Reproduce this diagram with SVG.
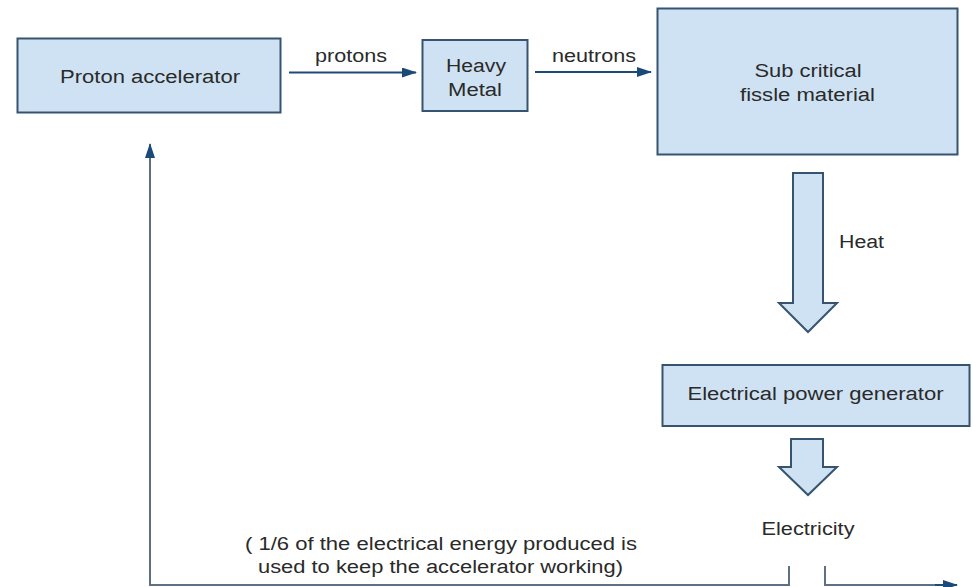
<svg xmlns="http://www.w3.org/2000/svg" width="973" height="587" viewBox="0 0 973 587">
<style>
.box{fill:#cfe2f3;stroke:#36546f;stroke-width:2}
.blk{fill:#cfe2f3;stroke:#36546f;stroke-width:2;stroke-linejoin:miter}
.t{font-family:"Liberation Sans",Arial,sans-serif;font-size:18px;fill:#2a2a2a;text-anchor:middle}
.ts{font-family:"Liberation Sans",Arial,sans-serif;font-size:18px;fill:#2a2a2a}
.ln{fill:none;stroke:#1f4a75;stroke-width:2}
.fb{fill:none;stroke:#5d7085;stroke-width:2}
</style>
<defs>
<marker id="ah" markerWidth="7.5" markerHeight="5" refX="7" refY="2.5" orient="auto" markerUnits="strokeWidth">
<path d="M0,0 L7.5,2.5 L0,5 Z" fill="#1c4a78"/>
</marker>
</defs>
<rect width="973" height="587" fill="#ffffff"/>
<g id="connectors">
<line class="ln" x1="289" y1="72.5" x2="416" y2="72.5" marker-end="url(#ah)"/>
<text class="t" x="351" y="62" textLength="72" lengthAdjust="spacingAndGlyphs">protons</text>
<line class="ln" x1="535" y1="72" x2="651" y2="72" marker-end="url(#ah)"/>
<text class="t" x="594" y="62" textLength="84" lengthAdjust="spacingAndGlyphs">neutrons</text>
<path class="blk" d="M793,173 H823 V303 H837 L808,332 L779,303 H793 Z"/>
<text class="ts" x="839" y="248" textLength="45" lengthAdjust="spacingAndGlyphs">Heat</text>
<path class="blk" d="M791,439 H823 V467 H837 L808,495 L779,467 H791 Z"/>
<text class="t" x="808" y="535" textLength="93" lengthAdjust="spacingAndGlyphs">Electricity</text>
<polyline class="fb" points="789,566 789,585 150,585 150,144" marker-end="url(#ah)"/>
<polyline class="fb" points="825,566 825,585 945,585"/>
<line class="ln" x1="935" y1="585" x2="957" y2="585" marker-end="url(#ah)"/>
<text class="t" x="441" y="550" textLength="392" lengthAdjust="spacingAndGlyphs">( 1/6 of the electrical energy produced is</text>
<text class="t" x="440.5" y="573" textLength="365" lengthAdjust="spacingAndGlyphs">used to keep the accelerator working)</text>
</g>
<g id="proton-accelerator">
<rect class="box" x="17.5" y="38.5" width="263" height="74"/>
<text class="t" x="150" y="83" textLength="180" lengthAdjust="spacingAndGlyphs">Proton accelerator</text>
</g>
<g id="heavy-metal">
<rect class="box" x="422.5" y="40" width="105" height="71"/>
<text class="t" x="476" y="72" textLength="60" lengthAdjust="spacingAndGlyphs">Heavy</text>
<text class="t" x="475" y="96" textLength="54" lengthAdjust="spacingAndGlyphs">Metal</text>
</g>
<g id="sub-critical">
<rect class="box" x="657.5" y="8.5" width="300" height="146"/>
<text class="t" x="808" y="77" textLength="107" lengthAdjust="spacingAndGlyphs">Sub critical</text>
<text class="t" x="807.5" y="101" textLength="135" lengthAdjust="spacingAndGlyphs">fissle material</text>
</g>
<g id="power-generator">
<rect class="box" x="662.5" y="365" width="307" height="61"/>
<text class="t" x="815.5" y="400" textLength="256" lengthAdjust="spacingAndGlyphs">Electrical power generator</text>
</g>
</svg>
